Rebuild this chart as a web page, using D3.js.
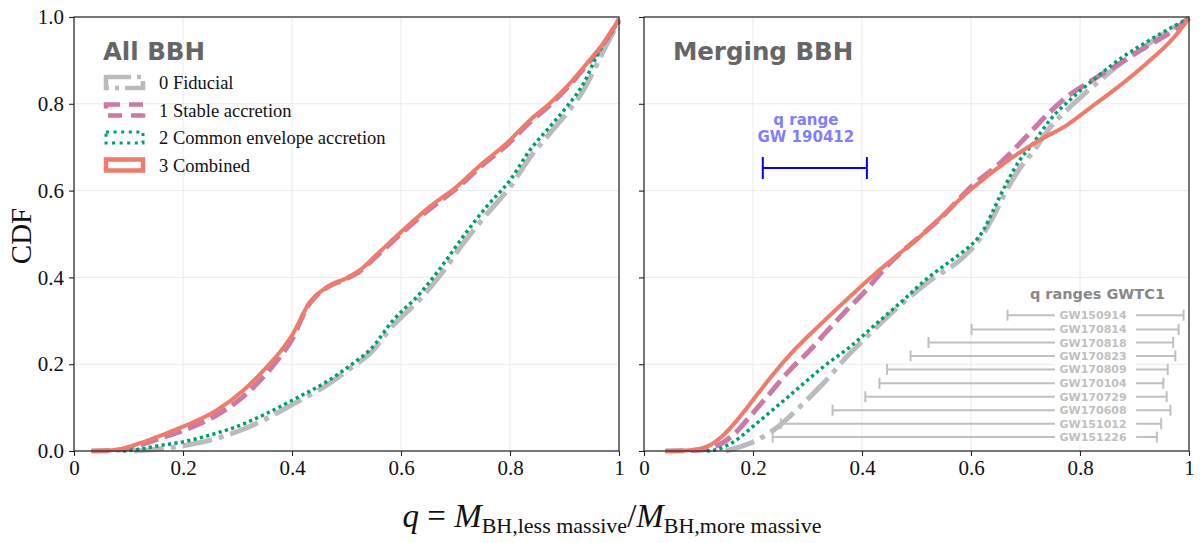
<!DOCTYPE html>
<html>
<head>
<meta charset="utf-8">
<script src="https://cdn.jsdelivr.net/npm/d3@7"></script>
<style>
  body { margin: 0; background: #fff; }
  .tick text { font-family: "Liberation Serif", "DejaVu Serif", serif; font-size: 21px; fill: #111; }
</style>
</head>
<body>
<div class="canva"></div>
<script>
// ---- All BBH panel ----
var allQ_fid  = [0.11, 0.2, 0.25, 0.3, 0.354, 0.402, 0.464, 0.512, 0.543, 0.586, 0.635, 0.672, 0.714, 0.757, 0.8, 0.837, 0.873, 0.904, 0.935, 0.959, 0.977, 1.0];
var allC_fid  = [0, 0.012, 0.025, 0.045, 0.075, 0.108, 0.152, 0.195, 0.225, 0.29, 0.35, 0.405, 0.478, 0.545, 0.608, 0.677, 0.732, 0.778, 0.832, 0.89, 0.935, 0.99];
var allQ_sta  = [0.032, 0.078, 0.121, 0.16, 0.2, 0.262, 0.311, 0.354, 0.381, 0.402, 0.415, 0.427, 0.445, 0.47, 0.5, 0.525, 0.555, 0.604, 0.653, 0.702, 0.745, 0.794, 0.837, 0.873, 0.904, 0.941, 0.971, 1.0];
var allC_sta  = [0, 0.002, 0.014, 0.03, 0.047, 0.083, 0.126, 0.18, 0.222, 0.262, 0.298, 0.33, 0.358, 0.381, 0.397, 0.415, 0.449, 0.505, 0.558, 0.605, 0.654, 0.705, 0.758, 0.797, 0.836, 0.89, 0.937, 0.995];
var allQ_ce   = [0.09, 0.12, 0.158, 0.2, 0.25, 0.298, 0.354, 0.402, 0.464, 0.512, 0.543, 0.586, 0.635, 0.672, 0.714, 0.757, 0.8, 0.837, 0.873, 0.904, 0.935, 0.959, 0.977, 1.0];
var allC_ce   = [0, 0.004, 0.013, 0.021, 0.037, 0.056, 0.087, 0.118, 0.16, 0.202, 0.233, 0.302, 0.363, 0.421, 0.494, 0.563, 0.624, 0.694, 0.747, 0.793, 0.847, 0.909, 0.947, 0.99];
var allQ_com  = [0.032, 0.078, 0.121, 0.16, 0.2, 0.262, 0.311, 0.354, 0.381, 0.402, 0.415, 0.427, 0.445, 0.47, 0.5, 0.525, 0.555, 0.604, 0.653, 0.702, 0.745, 0.794, 0.837, 0.873, 0.904, 0.941, 0.971, 1.0];
var allC_com  = [0, 0.003, 0.018, 0.036, 0.056, 0.094, 0.14, 0.194, 0.233, 0.271, 0.302, 0.332, 0.359, 0.382, 0.398, 0.417, 0.452, 0.509, 0.563, 0.609, 0.658, 0.709, 0.763, 0.801, 0.839, 0.893, 0.939, 0.995];

// ---- Merging BBH panel ----
var mrgQ_fid  = [0.15, 0.207, 0.25, 0.286, 0.329, 0.372, 0.415, 0.464, 0.522, 0.586, 0.617, 0.641, 0.665, 0.69, 0.714, 0.745, 0.788, 0.831, 0.88, 0.928, 0.971, 1.0];
var mrgC_fid  = [0, 0.025, 0.06, 0.102, 0.156, 0.217, 0.271, 0.329, 0.39, 0.447, 0.49, 0.54, 0.6, 0.652, 0.69, 0.745, 0.8, 0.848, 0.898, 0.94, 0.975, 0.997];
var mrgQ_sta  = [0.04, 0.1, 0.121, 0.164, 0.194, 0.231, 0.268, 0.299, 0.335, 0.366, 0.402, 0.445, 0.516, 0.543, 0.604, 0.653, 0.696, 0.739, 0.776, 0.818, 0.873, 0.922, 0.959, 1.0];
var mrgC_sta  = [0, 0.002, 0.006, 0.037, 0.079, 0.133, 0.187, 0.225, 0.275, 0.317, 0.363, 0.425, 0.505, 0.535, 0.613, 0.663, 0.717, 0.774, 0.816, 0.851, 0.893, 0.932, 0.959, 0.997];
var mrgQ_ce   = [0.115, 0.133, 0.164, 0.207, 0.243, 0.286, 0.329, 0.378, 0.427, 0.476, 0.522, 0.543, 0.586, 0.604, 0.623, 0.641, 0.665, 0.69, 0.714, 0.745, 0.788, 0.831, 0.88, 0.928, 0.971, 1.0];
var mrgC_ce   = [0, 0.003, 0.021, 0.064, 0.102, 0.148, 0.194, 0.24, 0.294, 0.348, 0.4, 0.42, 0.46, 0.479, 0.509, 0.555, 0.617, 0.671, 0.709, 0.763, 0.816, 0.862, 0.909, 0.947, 0.978, 0.997];
var mrgQ_com  = [0.0385, 0.084, 0.115, 0.146, 0.176, 0.207, 0.237, 0.268, 0.299, 0.329, 0.36, 0.39, 0.421, 0.457, 0.512, 0.543, 0.604, 0.665, 0.727, 0.776, 0.818, 0.867, 0.922, 0.971, 1.0];
var mrgC_com  = [0, 0.002, 0.01, 0.037, 0.079, 0.129, 0.177, 0.222, 0.262, 0.298, 0.335, 0.37, 0.405, 0.443, 0.5, 0.537, 0.607, 0.667, 0.717, 0.751, 0.79, 0.836, 0.893, 0.951, 0.997];

var seriesNames = ["0 Fiducial", "1 Stable accretion", "2 Common envelope accretion", "3 Combined"];

// GWTC1 mass ratio ranges
var gwNames = ["GW150914","GW170814","GW170818","GW170823","GW170809","GW170104","GW170729","GW170608","GW151012","GW151226"];
var gwLow   = [0.667, 0.601, 0.522, 0.489, 0.446, 0.432, 0.406, 0.346, 0.251, 0.236];
var gwHigh  = [0.99, 0.981, 0.971, 0.975, 0.961, 0.953, 0.959, 0.966, 0.949, 0.941];
var gwRow   = [0.313, 0.28, 0.25, 0.219, 0.188, 0.156, 0.125, 0.094, 0.063, 0.032];

// GW190412
var gw190412 = [0.218, 0.409];

var xTicks = [0, 0.2, 0.4, 0.6, 0.8, 1];
var yTicks = [0, 0.2, 0.4, 0.6, 0.8, 1.0];

var styles = [
  {color: "#bbbbbb", width: 5,   dash: "30,7,5,7"},
  {color: "#cc79a7", width: 5,   dash: "18,7"},
  {color: "#009e73", width: 3.5, dash: "3.2,3.3"},
  {color: "#ef7b6c", width: 4,   dash: null}
];

const svg = d3.select(".canva").append("svg")
              .attr("width", 1203)
              .attr("height", 543);

const plotTop = 17, plotBottom = 451;
var panels = [
  {left: 74,  right: 619, title: "All BBH",     data: [[allQ_fid, allC_fid],[allQ_sta, allC_sta],[allQ_ce, allC_ce],[allQ_com, allC_com]]},
  {left: 644, right: 1189, title: "Merging BBH", data: [[mrgQ_fid, mrgC_fid],[mrgQ_sta, mrgC_sta],[mrgQ_ce, mrgC_ce],[mrgQ_com, mrgC_com]]}
];

var y = d3.scaleLinear().domain([0, 1]).range([plotBottom, plotTop]);
const serif = "'Liberation Serif', 'DejaVu Serif', serif";
const sans = "'DejaVu Sans', sans-serif";

panels.forEach(function(p, pi) {
  var x = d3.scaleLinear().domain([0, 1]).range([p.left, p.right]);
  p.x = x;
  var g = svg.append("g");

  // grid
  g.selectAll(".vg").data(xTicks).enter().append("line")
   .attr("x1", d => x(d)).attr("x2", d => x(d))
   .attr("y1", plotTop).attr("y2", plotBottom)
   .attr("stroke", "#e8e8e8").attr("stroke-width", 0.9);
  g.selectAll(".hg").data(yTicks).enter().append("line")
   .attr("x1", p.left).attr("x2", p.right)
   .attr("y1", d => y(d)).attr("y2", d => y(d))
   .attr("stroke", "#e8e8e8").attr("stroke-width", 0.9);

  // curves
  p.data.forEach(function(s, si) {
    var pts = s[0].map((q, i) => [q, s[1][i]]);
    var line = d3.line()
                 .x(d => x(d[0]))
                 .y(d => y(d[1]))
                 .curve(d3.curveMonotoneX);
    var path = g.append("path")
      .attr("d", line(pts))
      .attr("fill", "none")
      .attr("stroke", styles[si].color)
      .attr("stroke-width", styles[si].width);
    if (styles[si].dash) path.attr("stroke-dasharray", styles[si].dash);
  });

  // axes
  var xAxis = d3.axisBottom(x).tickValues(xTicks)
                .tickFormat(d => d === 0 ? "0" : d === 1 ? "1" : d3.format(".1f")(d))
                .tickSize(5).tickPadding(4);
  var gx = g.append("g").attr("transform", "translate(0," + plotBottom + ")").call(xAxis);
  var yAxis = d3.axisLeft(y).tickValues(yTicks).tickFormat(d3.format(".1f"))
                .tickSize(5).tickPadding(5);
  var gy = g.append("g").attr("transform", "translate(" + p.left + ",0)").call(yAxis);
  if (pi === 1) gy.selectAll("text").remove();
  [gx, gy].forEach(a => {
    a.select(".domain").remove();
    a.selectAll("line").attr("stroke", "#222").attr("stroke-width", 1.1);
  });
  // box
  g.append("rect").attr("x", p.left).attr("y", plotTop)
   .attr("width", p.right - p.left).attr("height", plotBottom - plotTop)
   .attr("fill", "none").attr("stroke", "#222").attr("stroke-width", 1.2);

  // panel title
  g.append("text").attr("x", x(0.053)).attr("y", y(0.901))
   .attr("font-family", sans).attr("font-weight", "bold").attr("font-size", 24.5)
   .attr("fill", "#666").text(p.title);
});

// legend (left panel)
var lg = svg.append("g");
seriesNames.forEach(function(name, i) {
  var cy = 82.5 + i * 27.5;
  var r = lg.append("rect").attr("x", 106).attr("y", cy - 5.5)
    .attr("width", 37).attr("height", 11)
    .attr("fill", "none").attr("stroke", styles[i].color)
    .attr("stroke-width", i === 2 ? 3 : 4.5);
  if (styles[i].dash) r.attr("stroke-dasharray", i === 0 ? "25,6,4,6" : i === 1 ? "14,9" : "3,4.6");
  lg.append("text").attr("x", 159).attr("y", cy + 6.5)
    .attr("font-family", serif).attr("font-size", 18.5).attr("fill", "#111")
    .text(name);
});

// right panel annotations
var xr = panels[1].x;
var ann = svg.append("g");

// GW190412
var by = y(0.652);
ann.append("line").attr("x1", xr(gw190412[0])).attr("x2", xr(gw190412[1]))
   .attr("y1", by).attr("y2", by).attr("stroke", "#0000ff").attr("stroke-width", 2);
gw190412.forEach(v => ann.append("line").attr("x1", xr(v)).attr("x2", xr(v))
   .attr("y1", by - 11).attr("y2", by + 11).attr("stroke", "#0000ff").attr("stroke-width", 2));
ann.append("text").attr("x", xr(0.297)).attr("y", y(0.751)).attr("text-anchor", "middle")
   .attr("font-family", sans).attr("font-weight", "bold").attr("font-size", 15)
   .attr("fill", "#7f7fff").text("q range");
ann.append("text").attr("x", xr(0.297)).attr("y", y(0.712)).attr("text-anchor", "middle")
   .attr("font-family", sans).attr("font-weight", "bold").attr("font-size", 15)
   .attr("fill", "#7f7fff").text("GW 190412");

// GWTC1 ranges
ann.append("text").attr("x", xr(0.832)).attr("y", y(0.35)).attr("text-anchor", "middle")
   .attr("font-family", sans).attr("font-weight", "bold").attr("font-size", 14.5)
   .attr("fill", "#888").text("q ranges GWTC1");
gwNames.forEach(function(name, i) {
  var yy = y(gwRow[i]);
  ann.append("line").attr("x1", xr(gwLow[i])).attr("x2", xr(gwHigh[i]))
     .attr("y1", yy).attr("y2", yy).attr("stroke", "#c0c0c0").attr("stroke-width", 2);
  [gwLow[i], gwHigh[i]].forEach(v => ann.append("line")
     .attr("x1", xr(v)).attr("x2", xr(v)).attr("y1", yy - 5.5).attr("y2", yy + 5.5)
     .attr("stroke", "#c0c0c0").attr("stroke-width", 2));
  ann.append("rect").attr("x", xr(0.754)).attr("y", yy - 6).attr("width", xr(0.903) - xr(0.754))
     .attr("height", 12).attr("fill", "#fff");
  ann.append("text").attr("x", xr(0.824)).attr("y", yy + 4).attr("text-anchor", "middle")
     .attr("font-family", sans).attr("font-weight", "bold").attr("font-size", 11)
     .attr("fill", "#c0c0c0").text(name);
});

// axis labels
svg.append("text").attr("transform", "translate(31,236) rotate(-90)")
   .attr("text-anchor", "middle").attr("font-family", serif).attr("font-size", 29)
   .attr("fill", "#111").text("CDF");

var xl = svg.append("text").attr("x", 612).attr("y", 527).attr("text-anchor", "middle")
   .attr("font-family", serif).attr("font-size", 33).attr("fill", "#111");
xl.append("tspan").attr("font-style", "italic").text("q");
xl.append("tspan").text(" = ");
xl.append("tspan").attr("font-style", "italic").text("M");
xl.append("tspan").attr("font-size", 22).attr("dy", 6).text("BH,less massive");
xl.append("tspan").attr("dy", -6).text("/");
xl.append("tspan").attr("font-style", "italic").text("M");
xl.append("tspan").attr("font-size", 22).attr("dy", 6).text("BH,more massive");
</script>
</body>
</html>
